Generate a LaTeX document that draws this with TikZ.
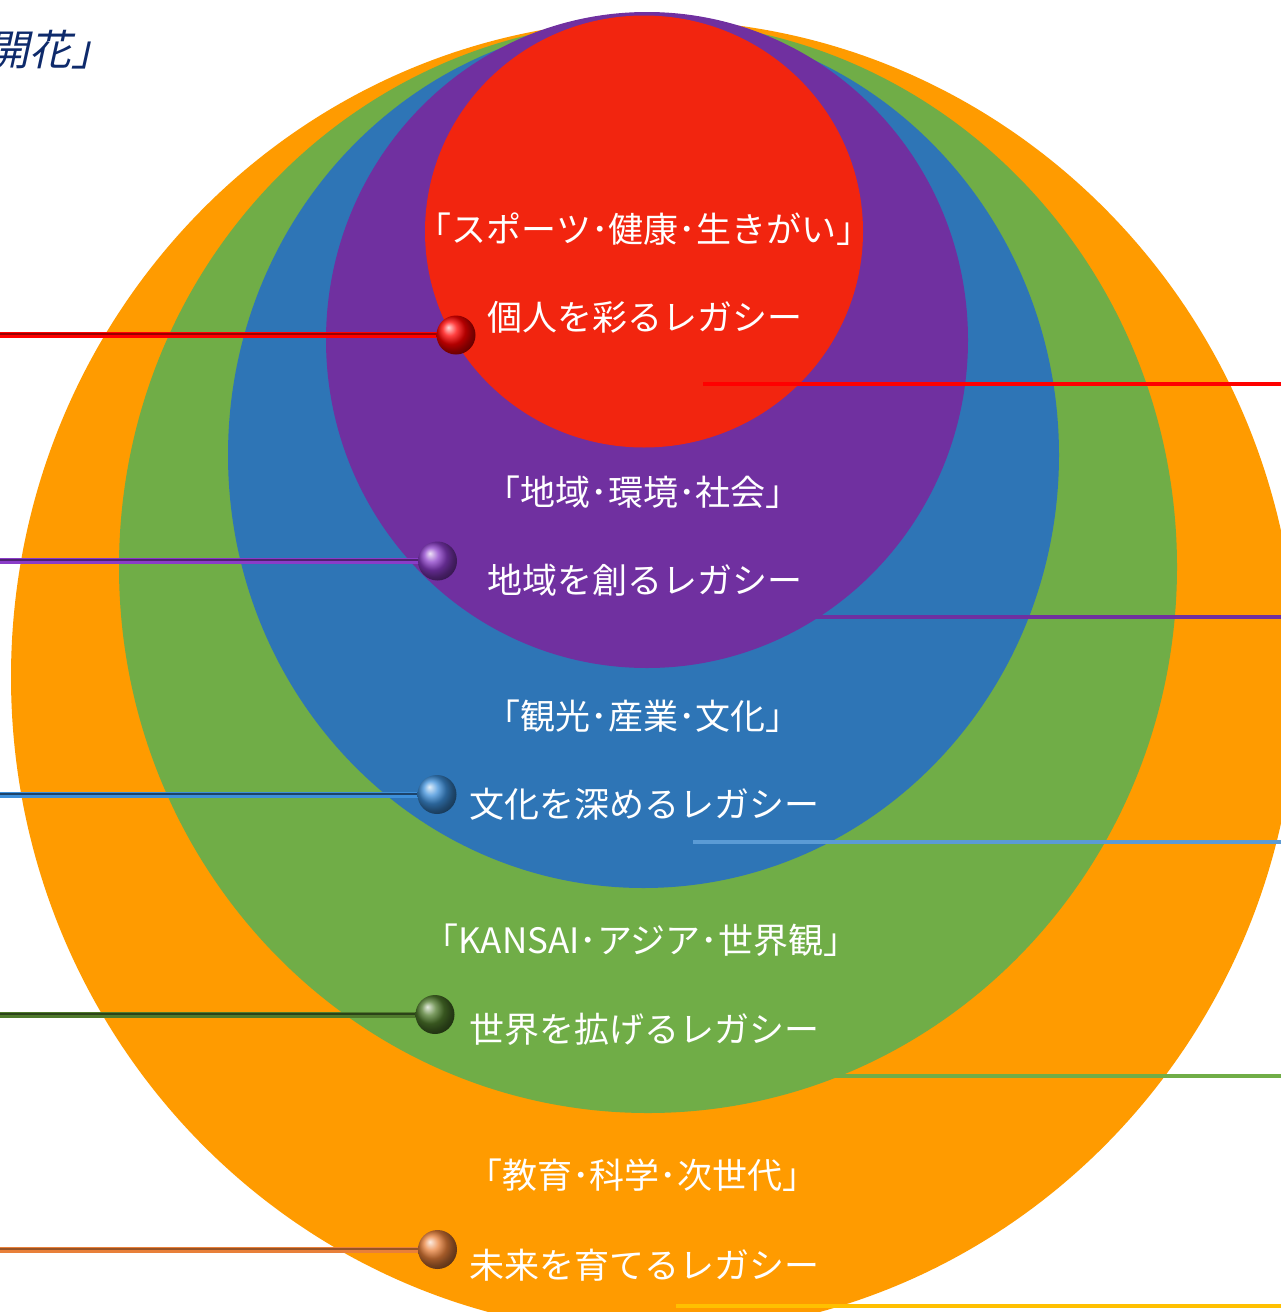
\documentclass[tikz,border=0pt]{standalone}
\usepackage{fontspec}
\usetikzlibrary{shapes.geometric}
\newfontfamily\jpfont{Noto Sans CJK JP}
\newfontfamily\jpslant[FakeSlant=0.22]{Noto Sans CJK JP}
\definecolor{cOrange}{HTML}{FF9B00}
\definecolor{cGreen}{HTML}{70AD47}
\definecolor{cBlue}{HTML}{2E75B6}
\definecolor{cPurple}{HTML}{7030A0}
\definecolor{cRed}{HTML}{F2250F}
\definecolor{cNavy}{HTML}{0E2A6B}
\definecolor{lRed}{HTML}{FF0000}
\definecolor{lBlue}{HTML}{5B9BD5}
\definecolor{lGold}{HTML}{FFC000}
\definecolor{lGreenDark}{HTML}{4F7A2C}
\definecolor{lOrange}{HTML}{E8803A}
\definecolor{lBlueDark}{HTML}{2E6FB0}
\definecolor{kBlueC}{HTML}{3D8FDA}
\definecolor{kPurpleC}{HTML}{8A3CC8}
\begin{document}
\begin{tikzpicture}[x=1pt,y=-1pt,
  ring/.style={ellipse, inner sep=0pt, draw=none},
  lbl/.style={text=white, font=\jpfont\fontsize{35}{42}\selectfont, inner sep=0pt, anchor=center},
  knob/.style={circle, inner sep=0pt, minimum size=39pt},
  rline/.style={line width=4pt},
  stem/.style={line width=6pt}
]
\useasboundingbox (0,0) rectangle (1281,1312);
% circles
\node[ring, fill=cOrange, minimum width=1286pt, minimum height=1314pt] (orange) at (654,677) {};
\node[ring, fill=cGreen, minimum width=1058pt, minimum height=1092pt] (green) at (648,567) {};
\node[ring, fill=cBlue, minimum width=831pt, minimum height=866pt] (blue) at (643.5,455) {};
\node[ring, fill=cPurple, minimum width=642pt, minimum height=656pt] (purple) at (647,340) {};
\node[ring, fill=cRed, minimum width=438pt, minimum height=432pt] (red) at (644,231.5) {};

% top-left title fragment
\node[text=cNavy, font=\jpslant\fontsize{42}{50}\selectfont, inner sep=0pt, anchor=east] (title) at (114,50) {開花」};

% right-hand lines
\coordinate (rRa) at (703,384);  \coordinate (rRb) at (1281,384);
\coordinate (rPa) at (703,617);  \coordinate (rPb) at (1281,617);
\coordinate (rBa) at (693,842);  \coordinate (rBb) at (1281,842);
\coordinate (rGa) at (703,1076); \coordinate (rGb) at (1281,1076);
\coordinate (rYa) at (676,1306); \coordinate (rYb) at (1281,1306);
\draw[rline, lRed] (rRa) -- (rRb);
\draw[rline, cPurple] (rPa) -- (rPb);
\draw[rline, lBlue] (rBa) -- (rBb);
\draw[rline, cGreen] (rGa) -- (rGb);
\draw[rline, lGold] (rYa) -- (rYb);

% left stems and knobs
\coordinate (sR) at (0,335);
\coordinate (sP) at (0,561);
\coordinate (sB) at (0,794.5);
\coordinate (sG) at (0,1014.5);
\coordinate (sO) at (0,1249.5);
\coordinate (kRc) at (456,335);
\coordinate (kPc) at (437.5,561);
\coordinate (kBc) at (437,794.5);
\coordinate (kGc) at (435,1014.5);
\coordinate (kOc) at (437.5,1249.5);
\draw[stem, lRed] (sR) -- (kRc);
\draw[line width=2pt, lRed!60!black] ([yshift=1.5pt]sR) -- ([yshift=1.5pt]kRc);
\draw[stem, kPurpleC] (sP) -- (kPc);
\draw[line width=2pt, cPurple!70!black] ([yshift=1pt]sP) -- ([yshift=1pt]kPc);
\draw[stem, kBlueC] (sB) -- (kBc);
\draw[line width=2pt, lBlueDark!60!black] ([yshift=1pt]sB) -- ([yshift=1pt]kBc);
\draw[stem, lGreenDark] (sG) -- (kGc);
\draw[line width=2pt, lGreenDark!55!black] ([yshift=1pt]sG) -- ([yshift=1pt]kGc);
\draw[stem, lOrange] (sO) -- (kOc);
\draw[line width=2pt, lOrange!65!black] ([yshift=1pt]sO) -- ([yshift=1pt]kOc);
\node[knob, ball color=lRed] (kR) at (kRc) {};
\node[knob, ball color=kPurpleC] (kP) at (kPc) {};
\node[knob, ball color=kBlueC] (kB) at (kBc) {};
\node[knob, ball color=lGreenDark] (kG) at (kGc) {};
\node[knob, ball color=lOrange] (kO) at (kOc) {};

% labels
\node[lbl] (t1) at (644,229) {「スポーツ･健康･生きがい」};
\node[lbl] (t2) at (645,317) {個人を彩るレガシー};
\node[lbl] (t3) at (643,492) {「地域･環境･社会」};
\node[lbl] (t4) at (645,580) {地域を創るレガシー};
\node[lbl] (t5) at (643,716) {「観光･産業･文化」};
\node[lbl] (t6) at (644,804) {文化を深めるレガシー};
\node[lbl] (t7) at (641,940) {「KANSAI･アジア･世界観」};
\node[lbl] (t8) at (644,1029) {世界を拡げるレガシー};
\node[lbl] (t9) at (642,1175) {「教育･科学･次世代」};
\node[lbl] (t10) at (644,1265) {未来を育てるレガシー};
\end{tikzpicture}
\end{document}
